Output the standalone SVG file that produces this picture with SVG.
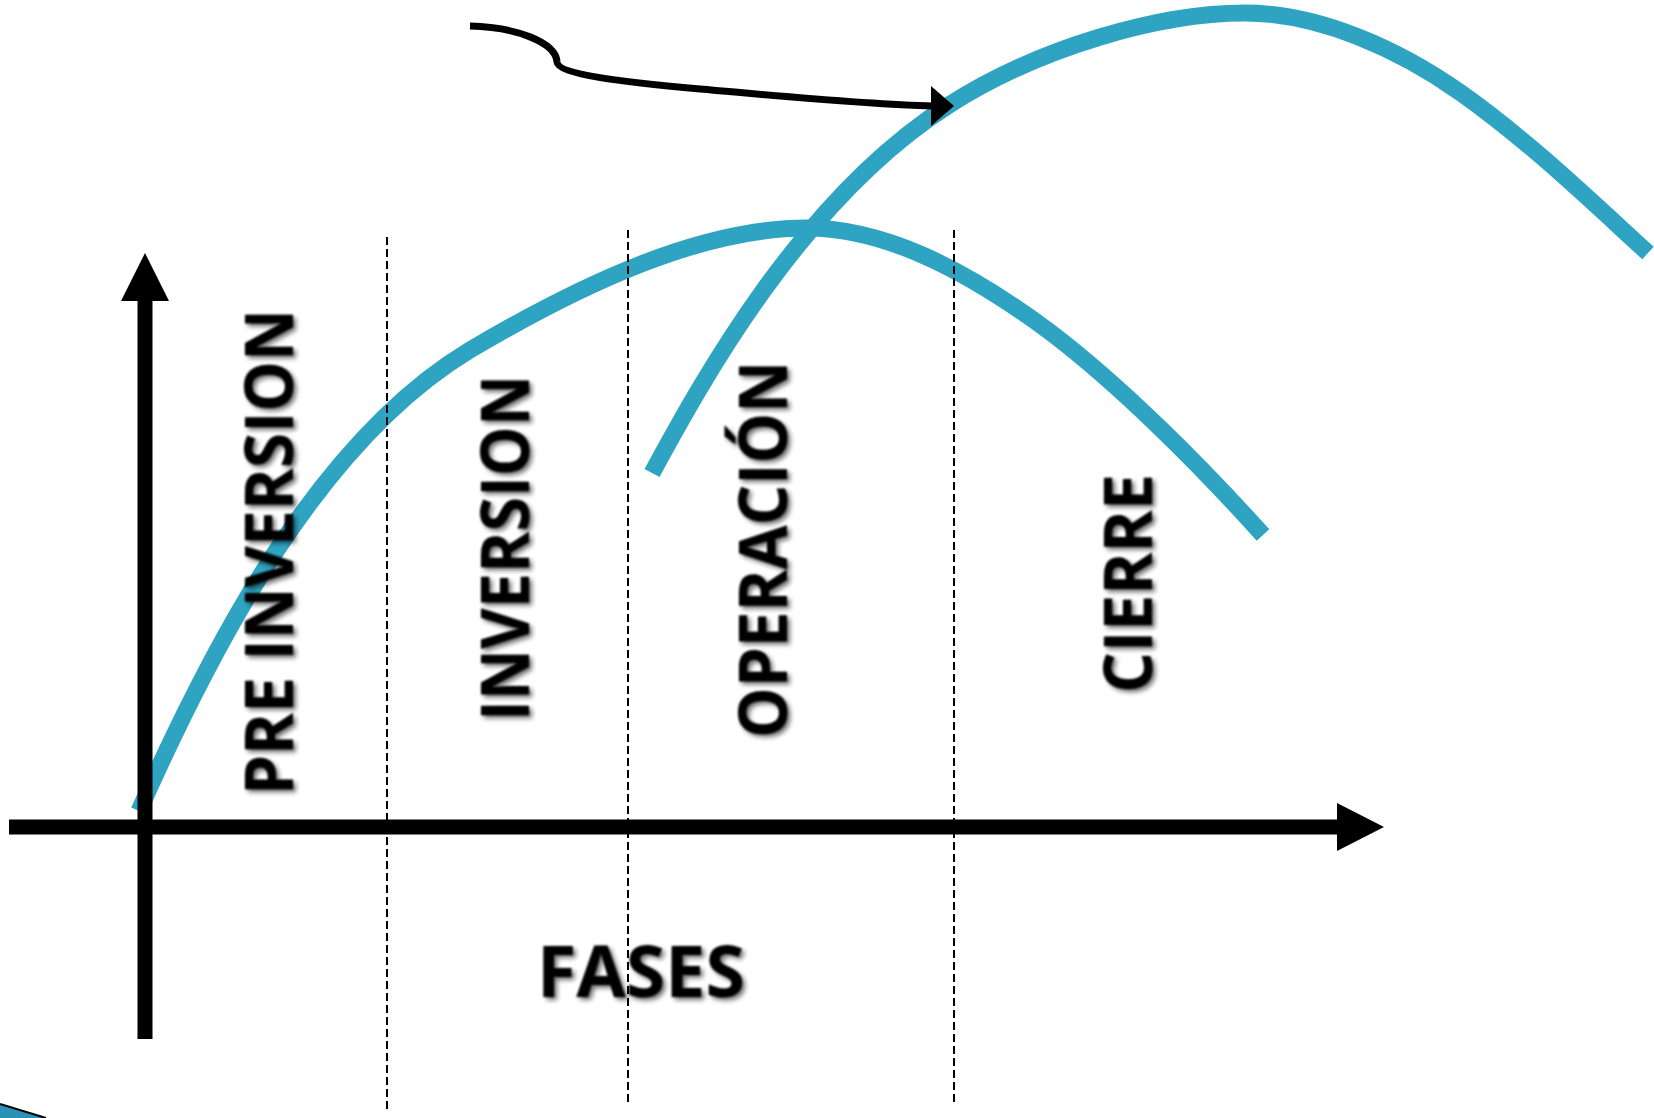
<svg xmlns="http://www.w3.org/2000/svg" width="1654" height="1118" viewBox="0 0 1654 1118">
<style>
.curve{fill:none;stroke:#2FA4C2;stroke-width:17;stroke-linecap:butt}
.dash{stroke:#000;stroke-width:2;stroke-dasharray:8 4;fill:none}
.axis{stroke:#000;stroke-width:15;fill:none}
.head{fill:#000}
.lbl{font-family:"Open Sans","Liberation Sans",sans-serif;font-weight:bold;font-size:66px;fill:#000}
</style>
<defs>
<filter id="sh" x="-20%" y="-20%" width="140%" height="140%">
<feGaussianBlur in="SourceAlpha" stdDeviation="2.5" result="b"/>
<feOffset in="b" dx="3" dy="3" result="o"/>
<feComponentTransfer in="o" result="s"><feFuncA type="linear" slope="0.55"/></feComponentTransfer>
<feGaussianBlur in="SourceGraphic" stdDeviation="1" result="t"/>
<feMerge><feMergeNode in="s"/><feMergeNode in="t"/></feMerge>
</filter>
</defs>
<rect width="1654" height="1118" fill="#fff"/>
<g id="connectors">
<path id="curve-lower" class="curve" d="M139,811 C215,640 320,440 470,350 C580,285 700,228 807,228 C880,228 960,265 1050,332 C1120,385 1200,465 1263,535"/>
<path id="curve-upper" class="curve" d="M652,473 C700,385 800,200 949,105 C1040,47 1160,13 1245,13 C1320,13 1400,50 1461,93 C1530,142 1590,200 1648,253"/>
<path id="corner-shape" d="M0,1104 L46,1118 L0,1118 Z" fill="#2A93B5"/>
<path d="M0,1104 L46,1118" stroke="#000" stroke-width="2" fill="none"/>
<line class="dash" x1="387" y1="237" x2="387" y2="1113"/>
<line class="dash" x1="628" y1="230" x2="628" y2="1105"/>
<line class="dash" x1="954" y1="230" x2="954" y2="1105"/>
<line id="x-axis" class="axis" x1="9" y1="827" x2="1338" y2="827"/>
<polygon class="head" points="1337,803 1384,827 1337,851"/>
<line id="y-axis" class="axis" x1="145" y1="1039" x2="145" y2="300"/>
<polygon class="head" points="121,301 145,253 169,301"/>
<path id="arrow-top" d="M470,26 C515,27 556,42 557,62 C558,74 620,82 700,89 C780,96 860,104 933,106" stroke="#000" stroke-width="7" fill="none"/>
<polygon class="head" points="931,86 954,106 931,126"/>
</g>
<g id="pre-inversion" filter="url(#sh)"><text class="lbl" transform="translate(293,795) rotate(-90)" textLength="486" lengthAdjust="spacingAndGlyphs">PRE INVERSION</text></g>
<g id="inversion" filter="url(#sh)"><text class="lbl" transform="translate(529,721) rotate(-90)" textLength="346" lengthAdjust="spacingAndGlyphs">INVERSION</text></g>
<g id="operacion" filter="url(#sh)"><text class="lbl" transform="translate(787,738) rotate(-90)" textLength="377" lengthAdjust="spacingAndGlyphs">OPERACIÓN</text></g>
<g id="cierre" filter="url(#sh)"><text class="lbl" transform="translate(1152,693) rotate(-90)" textLength="219" lengthAdjust="spacingAndGlyphs">CIERRE</text></g>
<g id="fases" filter="url(#sh)"><text class="lbl" x="537" y="997" style="font-size:72px" textLength="208" lengthAdjust="spacingAndGlyphs">FASES</text></g>
</svg>
